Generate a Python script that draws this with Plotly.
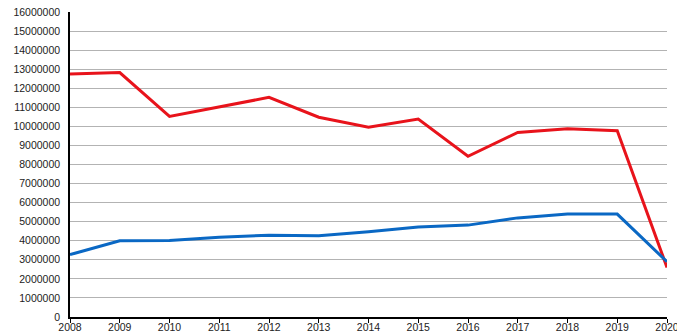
import plotly.graph_objects as go

years = [2008, 2009, 2010, 2011, 2012, 2013, 2014, 2015, 2016, 2017, 2018, 2019, 2020]
red_values = [12750000, 12820000, 10520000, 11000000, 11520000, 10480000, 9950000, 10380000,
              8430000, 9680000, 9880000, 9770000, 2600000]
blue_values = [3270000, 4000000, 4010000, 4180000, 4290000, 4260000, 4470000, 4720000,
               4820000, 5200000, 5400000, 5400000, 2900000]
y_ticks = list(range(0, 16000001, 1000000))

fig = go.Figure()
fig.add_trace(go.Scatter(x=years, y=red_values, mode="lines",
                         line=dict(color="#e8131b", width=3), showlegend=False))
fig.add_trace(go.Scatter(x=years, y=blue_values, mode="lines",
                         line=dict(color="#0a68c4", width=3), showlegend=False))

fig.update_layout(
    width=677, height=336,
    margin=dict(l=70, r=10, t=12, b=19),
    paper_bgcolor="white", plot_bgcolor="white",
    font=dict(family="Liberation Sans, Arial, sans-serif", size=11, color="#222222"),
)
fig.update_xaxes(
    range=[2008, 2020], tickmode="array", tickvals=years,
    ticktext=[str(y) for y in years],
    showgrid=False, zeroline=False, automargin=False, ticklabeloverflow="allow",
    showline=True, linecolor="black", linewidth=1.5,
    ticks="outside", ticklen=4, tickcolor="black", tickwidth=1,
    ticklabelstandoff=-4, tickfont=dict(size=10.5),
)
fig.update_yaxes(
    range=[0, 16000000], tickmode="array", tickvals=y_ticks,
    ticktext=[str(v) for v in y_ticks], automargin=False, ticklabeloverflow="allow",
    showgrid=True, gridcolor="#b3b3b3", gridwidth=1,
    zeroline=False, showline=True, linecolor="black", linewidth=1.5,
    ticks="", ticklabelstandoff=6, tickfont=dict(size=10.5),
)

fig.write_html(
    "out.html",
    config={"displayModeBar": False},
    post_script="document.body.style.margin='0px';document.body.style.overflow='hidden';",
)
